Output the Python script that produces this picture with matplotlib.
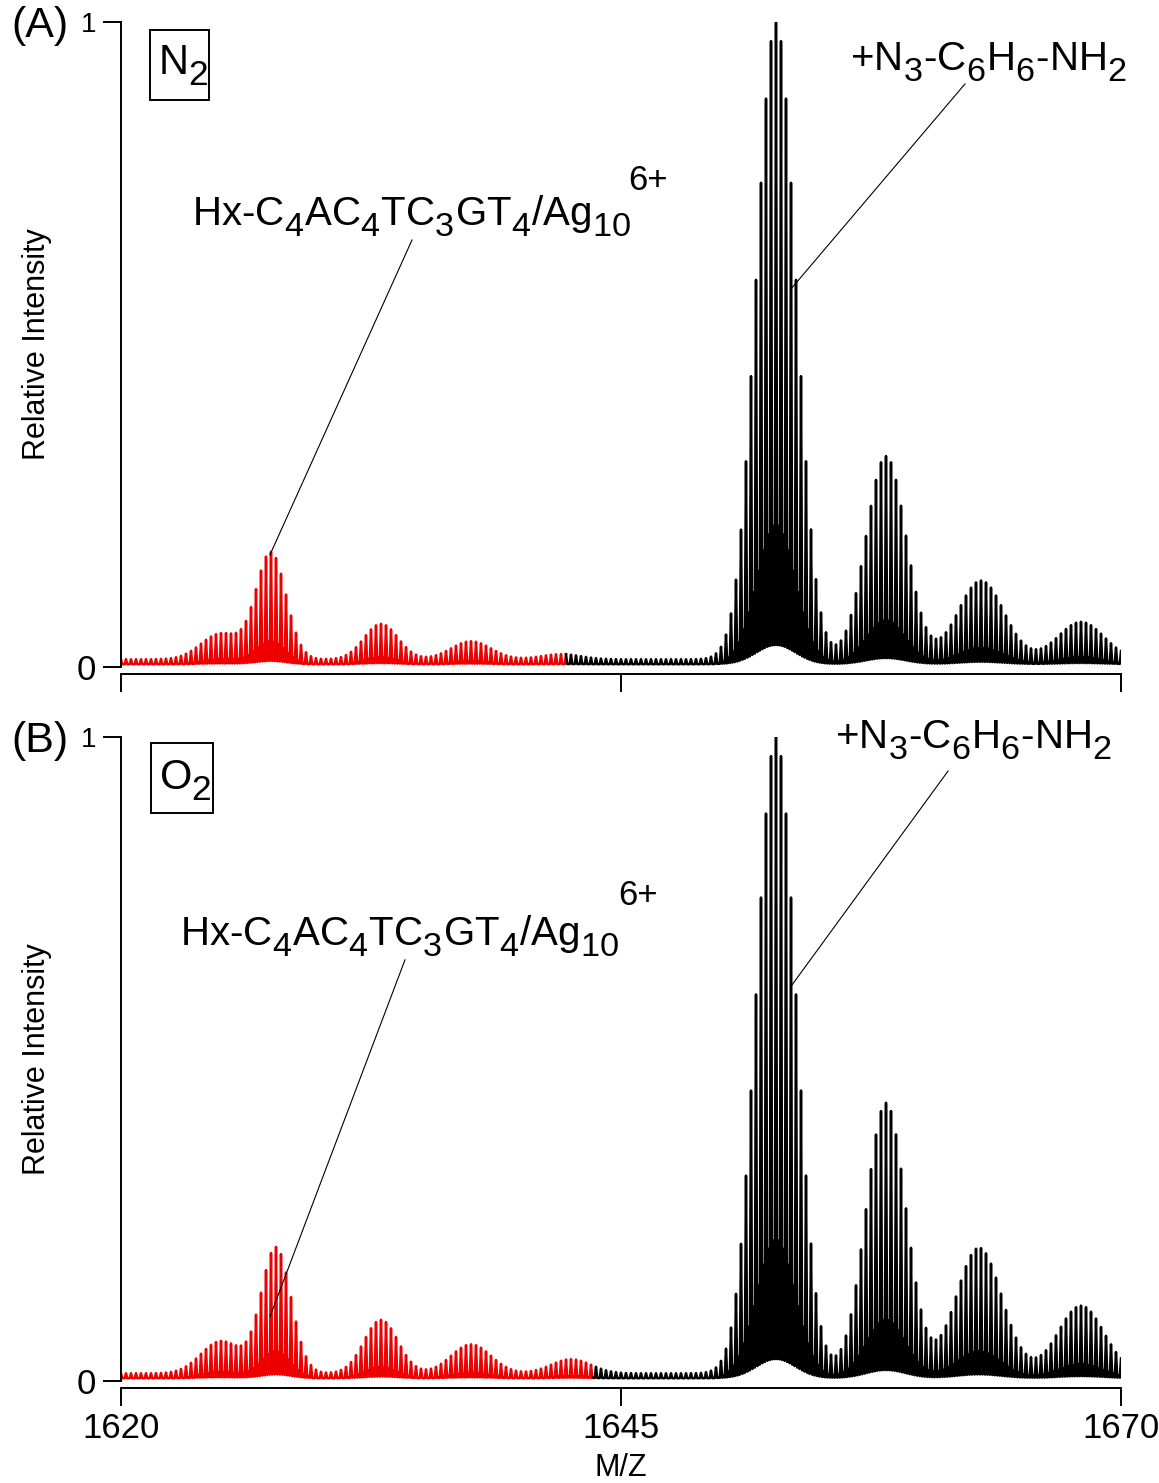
import numpy as np
import matplotlib.pyplot as plt
import matplotlib._mathtext as mathtext_internals
from matplotlib.patches import Rectangle

plt.rcParams['font.family'] = 'Liberation Sans'
plt.rcParams['mathtext.fontset'] = 'custom'
plt.rcParams['mathtext.rm'] = 'Liberation Sans'
plt.rcParams['mathtext.it'] = 'Liberation Sans:italic'

# the figure uses big, low subscripts (Igor style)
mathtext_internals.SHRINK_FACTOR = 0.85
mathtext_internals.FontConstantsBase.sub1 = 0.5

# ---- data ----
# isotope clusters: apex m/z, apex height, envelope width (m/z)
a_mz = [1625.0, 1627.5, 1633.0, 1637.5, 1642.0, 1652.75, 1658.25, 1663.0, 1668.0]
a_height = [0.040, 0.165, 0.055, 0.028, 0.008, 0.99, 0.315, 0.122, 0.058]
a_width = [1.00, 0.75, 0.85, 1.00, 1.00, 0.98, 1.00, 1.15, 1.15]
a_split = 1642.25   # red -> black

b_mz = [1625.0, 1627.75, 1633.0, 1637.5, 1642.5, 1652.75, 1658.25, 1662.9, 1668.0]
b_height = [0.050, 0.195, 0.083, 0.045, 0.022, 0.99, 0.42, 0.195, 0.105]
b_width = [1.00, 0.75, 0.85, 1.00, 1.00, 0.98, 1.00, 1.15, 1.15]
b_split = 1643.6

peak_pitch = 0.25      # spacing of the drawn isotope spikes
side_frac = 0.22       # smaller spike seen between the main ones
base_top = 0.012
base_valley = 0.004
valley_frac = 0.03

x_ticks = [1620, 1645, 1670]
label_top = r'+N$_3$-C$_6$H$_6$-NH$_2$'
label_left = r'Hx-C$_4$AC$_4$TC$_3$GT$_4$/Ag$_{10}$'


def spectrum(mz, height, width):
    x = np.arange(1620, 1670 + 1e-9, peak_pitch / 4)
    env = np.full_like(x, base_top)
    for c, h, w in zip(mz, height, width):
        env += h * np.exp(-(x - c) ** 2 / (2 * w ** 2))
    valley = base_valley + valley_frac * env
    y = valley.copy()
    y[0::4] = env[0::4]
    y[2::4] = np.maximum(side_frac * env[2::4], valley[2::4])
    return x, y


fig = plt.figure(figsize=(11.59, 14.83), dpi=100)
H = 1483.0
W = 1159.0


def make_axes(y_one, y_zero):
    return fig.add_axes([121 / W, 1 - y_zero / H, 1000 / W, (y_zero - y_one) / H])


ax_a = make_axes(22, 667)
ax_b = make_axes(737, 1381)

panels = [
    (ax_a, a_mz, a_height, a_width, a_split, '(A)', r'N$_2$', (0.029, 0.879, 0.059, 0.109)),
    (ax_b, b_mz, b_height, b_width, b_split, '(B)', r'O$_2$', (0.030, 0.882, 0.062, 0.109)),
]

for ax, mz, hh, ww, split, tag, gas, box in panels:
    x, y = spectrum(mz, hh, ww)
    red = x <= split + 1e-9
    blk = x >= split - 1e-9
    ax.plot(x[red], y[red], color='#ee0000', lw=1.8, solid_joinstyle='round')
    ax.plot(x[blk], y[blk], color='black', lw=1.8, solid_joinstyle='round')

    ax.set_xlim(1620, 1670)
    ax.set_ylim(0, 1)
    for s in ['top', 'right']:
        ax.spines[s].set_visible(False)
    ax.spines['bottom'].set_position(('outward', 5))
    for s in ['left', 'bottom']:
        ax.spines[s].set_linewidth(1.4)
    ax.set_xticks(x_ticks)
    ax.set_yticks([0, 1])
    ax.set_yticklabels(['0', '1'])
    ax.tick_params(axis='both', direction='out', length=13, width=1.4, labelsize=25, pad=4)
    ax.tick_params(axis='y', pad=5)
    ax.get_yticklabels()[1].set_fontsize(20)
    ax.set_ylabel('Relative Intensity', fontsize=22, labelpad=18)

    ax.text(-0.11, 1.025, tag, transform=ax.transAxes, fontsize=31, ha='left', va='top')
    ax.add_patch(Rectangle((box[0], box[1]), box[2], box[3], transform=ax.transAxes,
                           fill=False, ec='black', lw=1.4, clip_on=False))
    ax.text(box[0] + 0.008, 0.918, gas, transform=ax.transAxes, fontsize=30,
            ha='left', va='baseline')

ax_a.tick_params(axis='x', labelbottom=False)
ax_b.set_xlabel('M/Z', fontsize=22, labelpad=6)

# annotations, panel A
ax_a.text(1656.45, 0.926, label_top, fontsize=29, ha='left', va='baseline')
ax_a.plot([1662.2, 1653.55], [0.904, 0.588], color='black', lw=0.8)
ax_a.text(1623.55, 0.685, label_left, fontsize=29, ha='left', va='baseline')
ax_a.text(1645.35, 0.74, '6+', fontsize=25, ha='left', va='baseline')
ax_a.plot([1634.55, 1627.45], [0.662, 0.174], color='black', lw=0.8)

# annotations, panel B
ax_b.text(1655.7, 0.983, label_top, fontsize=29, ha='left', va='baseline')
ax_b.plot([1661.35, 1653.55], [0.947, 0.615], color='black', lw=0.8)
ax_b.text(1622.95, 0.677, label_left, fontsize=29, ha='left', va='baseline')
ax_b.text(1644.85, 0.739, '6+', fontsize=25, ha='left', va='baseline')
ax_b.plot([1634.2, 1627.45], [0.654, 0.10], color='black', lw=0.8)

fig.savefig('out.png', dpi=100)
